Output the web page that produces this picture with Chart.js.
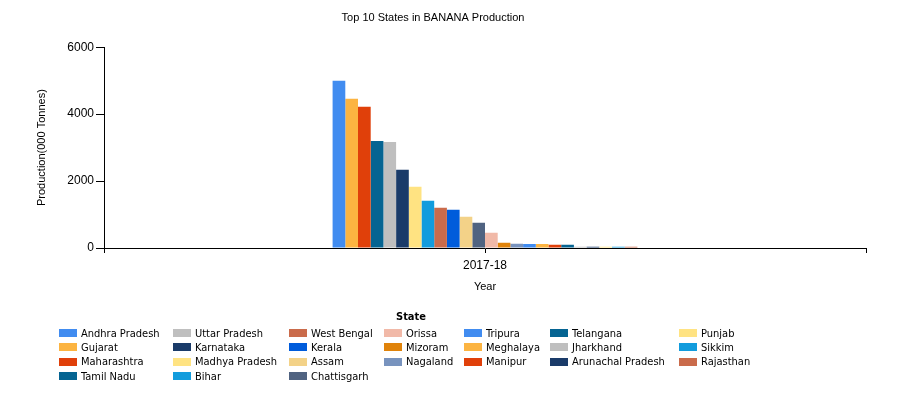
<!DOCTYPE html>
<html>
<head>
<meta charset="utf-8">
<script src="https://cdn.jsdelivr.net/npm/chart.js@4"></script>
<style>
html,body{margin:0;padding:0;background:#fff;}
#wrap{position:relative;width:900px;height:400px;overflow:hidden;}
#chart{position:absolute;left:0;top:0;}
#legendTitle{position:absolute;left:411px;top:310px;transform:translateX(-50%);font-family:"DejaVu Sans Condensed","DejaVu Sans",sans-serif;font-size:11px;font-weight:bold;color:#000;line-height:14px;}
#legend{position:absolute;left:59px;top:326px;display:grid;grid-template-rows:repeat(4,14.3px);grid-template-columns:114px 116px 95px 80px 86px 129px 90px;font-family:"DejaVu Sans Condensed","DejaVu Sans",sans-serif;font-size:11px;color:#000;}
#legend .it{display:flex;align-items:center;white-space:nowrap;}
#legend .sw{width:18px;height:8px;margin-right:4px;flex:none;}
</style>
</head>
<body>
<div id="wrap">
<canvas id="chart" width="900" height="400"></canvas>
<div id="legendTitle">State</div>
<div id="legend"></div>
</div>
<script>
const chartTitle = "Top 10 States in BANANA Production";
const years = ["2017-18"];
const states = ["Andhra Pradesh","Gujarat","Maharashtra","Tamil Nadu","Uttar Pradesh","Karnataka","Madhya Pradesh","Bihar","West Bengal","Kerala","Assam","Chattisgarh","Orissa","Mizoram","Nagaland","Tripura","Meghalaya","Manipur","Telangana","Jharkhand","Arunachal Pradesh","Punjab","Sikkim","Rajasthan"];
const production = [5000,4460,4220,3200,3170,2340,1830,1410,1200,1140,935,755,455,160,125,120,120,100,100,40,40,35,35,35];
const palette = ["#418CF0","#FCB441","#E0400A","#056492","#BFBFBF","#1A3B69","#FFE382","#129CDD","#CA6B4B","#005CDB","#F3D288","#506381","#F1B9A8","#E0830A","#7893BE"];
const yTicks = [0,2000,4000,6000];

const datasets = states.map((s,i)=>({
  label:s,
  data:[production[i]],
  backgroundColor:palette[i%palette.length],
  borderWidth:0,
  categoryPercentage:0.4,
  barPercentage:1.0
}));

const edgeTicks = {
  id:'edgeTicks',
  afterDraw(c){
    const a=c.chartArea, ctx=c.ctx;
    ctx.save();
    ctx.strokeStyle='#000';ctx.lineWidth=1;
    ctx.beginPath();
    const l=Math.round(a.left)+0.5, r=Math.round(a.right)+0.5;
    ctx.moveTo(l,a.bottom);ctx.lineTo(l,a.bottom+5);
    ctx.moveTo(r,a.bottom);ctx.lineTo(r,a.bottom+5);
    ctx.stroke();
    ctx.restore();
  }
};

const sans = "'Liberation Sans', Arial, sans-serif";
new Chart(document.getElementById('chart'),{
  type:'bar',
  data:{labels:years,datasets},
  options:{
    responsive:false,
    animation:false,
    devicePixelRatio:1,
    layout:{padding:{left:0,right:34,top:0,bottom:92}},
    plugins:{
      legend:{display:false},
      tooltip:{enabled:false},
      title:{display:true,text:chartTitle,color:'#000',font:{family:sans,size:11,weight:'normal'},padding:{top:11,bottom:23}}
    },
    scales:{
      x:{
        type:'category',
        grid:{offset:false,drawOnChartArea:false,drawTicks:true,tickLength:5,color:'#000'},
        border:{color:'#000',width:1},
        ticks:{color:'#000',font:{family:sans,size:12},padding:5},
        title:{display:true,text:'Year',color:'#000',font:{family:sans,size:11},padding:{top:0,bottom:14}},
        afterFit(s){s.height=60;}
      },
      y:{
        min:0,max:6000,
        afterBuildTicks(s){s.ticks=yTicks.map(v=>({value:v}));},
        grid:{drawOnChartArea:false,drawTicks:true,tickLength:8,color:'#000'},
        border:{color:'#000',width:1},
        ticks:{color:'#000',font:{family:sans,size:12},padding:2,callback:v=>String(v)},
        title:{display:true,text:'Production(000 Tonnes)',color:'#000',font:{family:sans,size:11},padding:{top:35,bottom:0}},
        afterFit(s){s.width=104;}
      }
    }
  },
  plugins:[edgeTicks]
});

// legend: balanced column-major layout (7 columns, first columns take the extra items)
const lg=document.getElementById('legend');
const nCols=7, base=Math.floor(states.length/nCols), extra=states.length%nCols;
let col=0,row=0;
states.forEach((s,i)=>{
  const it=document.createElement('div');it.className='it';
  it.style.gridColumn=String(col+1);it.style.gridRow=String(row+1);
  const sw=document.createElement('span');sw.className='sw';sw.style.background=palette[i%palette.length];
  const t=document.createElement('span');t.textContent=s;
  it.appendChild(sw);it.appendChild(t);lg.appendChild(it);
  row++;
  if(row>=base+(col<extra?1:0)){row=0;col++;}
});
</script>
</body>
</html>
